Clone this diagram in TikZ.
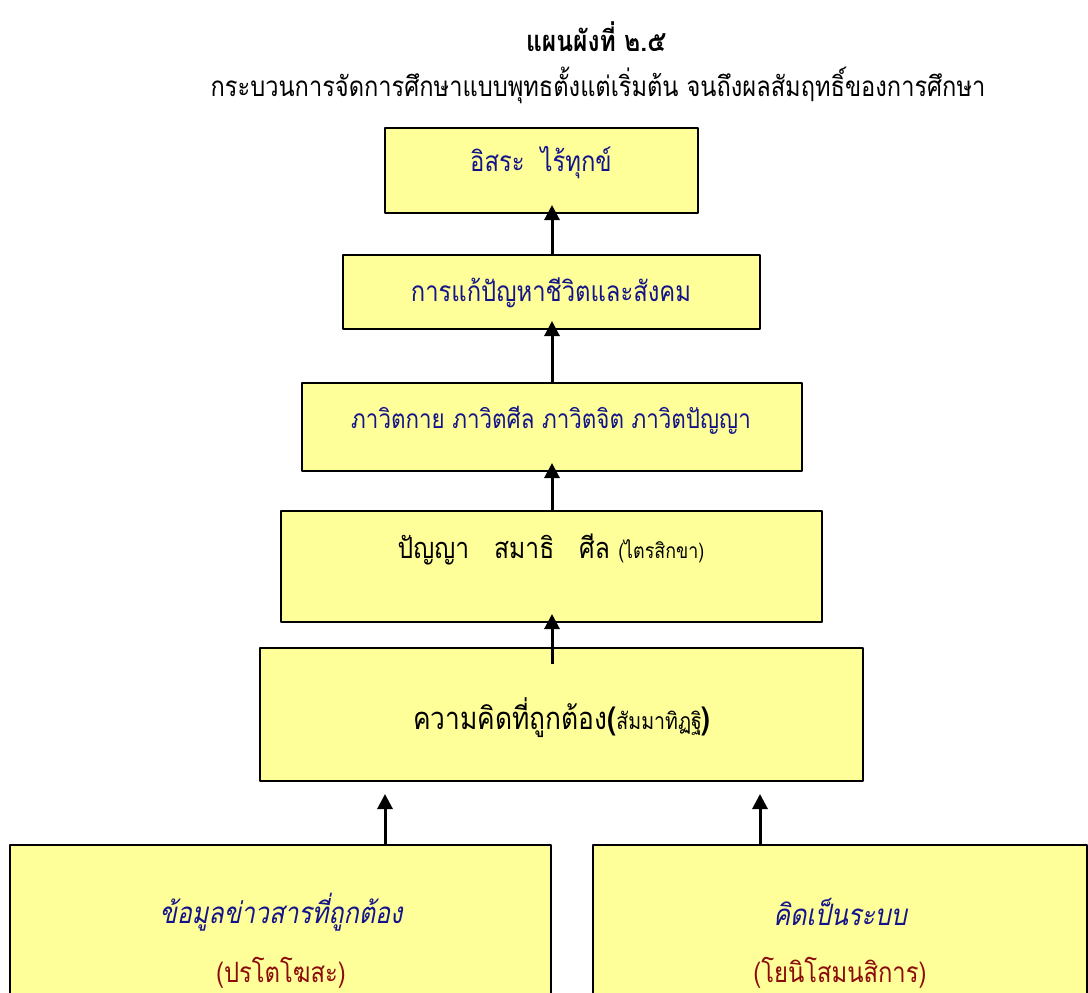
\documentclass[tikz,border=0pt]{standalone}
\usepackage{fontspec}
\usetikzlibrary{arrows.meta}
\newfontfamily\thai[Script=Thai,FakeStretch=0.85]{Loma}
\newfontfamily\thaiit[Script=Thai,FakeStretch=0.85,FakeSlant=0.2]{Loma}
\definecolor{boxfill}{HTML}{FFFF99}
\definecolor{txtblue}{HTML}{14148A}
\definecolor{txtred}{HTML}{8B0A0A}
\begin{document}
\begin{tikzpicture}[x=1pt,y=-1pt,line join=round,>={Triangle[width=15pt,length=15pt]},
  box/.style={draw=black,line width=2pt,fill=boxfill,inner sep=0pt},
  txt/.style={font=\thai\fontsize{28}{32}\selectfont,text=txtblue,inner sep=0pt},
  arr/.style={->,line width=3pt}]
\def \ax{552};
\useasboundingbox (0,0) rectangle (1088,993);
\clip (0,0) rectangle (1088,993);
% titles
\node[txt,text=black,font=\thai\bfseries\fontsize{29}{32}\selectfont] (title) at (596,37) {แผนผังที่ ๒.๕};
\node[txt,text=black,font=\thai\fontsize{27.8}{32}\selectfont] (subtitle) at (598,85) {กระบวนการจัดการศึกษาแบบพุทธตั้งแต่เริ่มต้น จนถึงผลสัมฤทธิ์ของการศึกษา};
% boxes
\node[box,minimum width=313,minimum height=85] (b1) at (541.5,170.5) {};
\node[box,minimum width=417,minimum height=74] (b2) at (551.5,292) {};
\node[box,minimum width=500,minimum height=88] (b3) at (552,427) {};
\node[box,minimum width=541,minimum height=111] (b4) at (551.5,566.5) {};
\node[box,minimum width=603,minimum height=133] (b5) at (561.5,714.5) {};
\node[box,minimum width=541,minimum height=165] (b6) at (280.5,927.5) {};
\node[box,minimum width=494,minimum height=165] (b7) at (840,927.5) {};
% texts
\node[txt] (t1) at (541,163) {อิสระ\ \ ไร้ทุกข์};
\node[txt] (t2) at (551,293) {การแก้ปัญหาชีวิตและสังคม};
\node[txt,font=\thai\fontsize{26.3}{30}\selectfont] (t3) at (551,420) {ภาวิตกาย ภาวิตศีล ภาวิตจิต ภาวิตปัญญา};
\node[txt,text=black,font=\thai\fontsize{29}{32}\selectfont] (t4) at (551,550) {ปัญญา\ \ \ สมาธิ\ \ \ ศีล {\fontsize{21}{24}\selectfont(ไตรสิกขา)}};
\node[txt,text=black,font=\thai\fontsize{31}{34}\selectfont] (t5) at (562,718) {ความคิดที่ถูกต้อง\textbf{(}{\fontsize{23}{26}\selectfont สัมมาทิฏฐิ}\textbf{)}};
\node[txt,font=\thaiit\fontsize{29.5}{32}\selectfont] (t6) at (281,912) {ข้อมูลข่าวสารที่ถูกต้อง};
\node[txt,text=txtred] (t6p) at (281,973) {(ปรโตโฆสะ)};
\node[txt,font=\thaiit\fontsize{29.5}{32}\selectfont] (t7) at (840,912) {คิดเป็นระบบ};
\node[txt,text=txtred] (t7p) at (840,973) {(โยนิโสมนสิการ)};
% arrows
\foreach \f/\t/\s in {b2/b1/0,b3/b2/0,b4/b3/0,b5/b4/-17}
  \draw[arr,shorten <=\s pt,shorten >=-9pt] (\f.north -| \ax,0) -- (\t.south -| \ax,0);
\draw[arr,shorten >=12pt] (b6.north -| 385,0) -- (b5.south -| 385,0);
\draw[arr,shorten >=12pt] (b7.north -| 760,0) -- (b5.south -| 760,0);
\end{tikzpicture}
\end{document}
